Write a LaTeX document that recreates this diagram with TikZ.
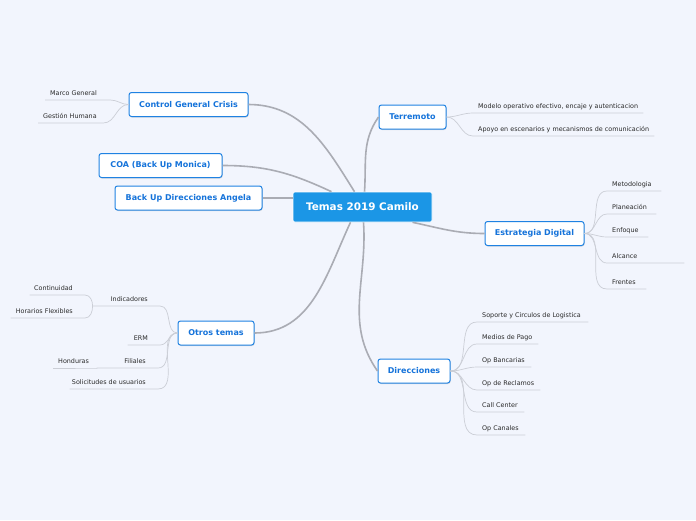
\documentclass[tikz,border=0pt]{standalone}
\usepackage{fontspec}
\setmainfont{DejaVu Sans}
\usepackage{xcolor}
\usepackage{tikz}
\usetikzlibrary{shapes, shadows, positioning}

\definecolor{paper}{HTML}{F2F5FD}
\definecolor{rootblue}{HTML}{1B96E6}
\definecolor{boxblue}{HTML}{1F82E2}
\definecolor{topicblue}{HTML}{1573DA}
\definecolor{linkgray}{HTML}{AAACB4}
\definecolor{twiggray}{HTML}{CBCED6}
\definecolor{leafgray}{HTML}{2A2A2A}

\begin{document}
\begin{tikzpicture}[
        x=1pt, y=-1pt,
        root/.style={
            rectangle,
            rounded corners=2pt,
            fill=rootblue,
            draw=white,
            line width=0.6pt,
            text=white,
            font=\fontsize{10.4}{12}\selectfont\bfseries,
            minimum width=139pt,
            minimum height=30pt
        },
        topic/.style={
            rectangle,
            rounded corners=2.5pt,
            draw=boxblue,
            fill=white,
            line width=1pt,
            text=topicblue,
            font=\fontsize{8}{10}\selectfont\bfseries,
            minimum height=24pt,
            inner xsep=2pt,
            drop shadow={shadow xshift=0.6pt, shadow yshift=-1pt, opacity=0.25}
        },
        twigtext/.style={
            text=leafgray,
            font=\fontsize{6.4}{7.5}\selectfont,
            text height=5pt,
            text depth=1.5pt,
            inner ysep=2.5pt
        },
        leaf/.style={
            twigtext,
            anchor=south west,
            inner xsep=5pt,
            execute at begin node={\hbox to #1\bgroup},
            execute at end node={\hss\egroup}
        },
        leafr/.style={
            twigtext,
            anchor=south east,
            inner xsep=12pt,
            execute at begin node={\hbox to #1\bgroup\hss},
            execute at end node={\egroup}
        },
        link/.style={
            draw=linkgray,
            line width=1.6pt
        },
        twig/.style={
            draw=twiggray,
            line width=0.7pt
        }
    ]

    % Background
    \fill[paper] (0,0) rectangle (696,520);

    % Central topic
    \node[root] (root) at (362.5,207) {Temas 2019 Camilo};

    % Main topics
    \node[topic, minimum width=119pt] (crisis) at (188.5,104.5) {Control General Crisis};
    \node[topic, minimum width=123pt] (coa) at (160.5,165.5) {COA (Back Up Monica)};
    \node[topic, minimum width=147pt] (angela) at (188.5,198) {Back Up Direcciones Angela};
    \node[topic, minimum width=67pt] (terremoto) at (412.5,117) {Terremoto};
    \node[topic, minimum width=99pt] (estrategia) at (534.5,233.5) {Estrategia Digital};
    \node[topic, minimum width=72pt] (direcciones) at (414,371) {Direcciones};
    \node[topic, minimum width=76pt] (otros) at (216,333) {Otros temas};

    % Subtopics
    \node[leaf=55pt] (marco) at (45,100) {Marco General};
    \node[leaf=55pt] (gestion) at (38,123) {Gestión Humana};

    \node[leaf=160pt] (modelo) at (473,113) {Modelo operativo efectivo, encaje y autenticacion};
    \node[leaf=171pt] (apoyo) at (473,136) {Apoyo en escenarios y mecanismos de comunicación};

    \node[leaf=44pt] (metodo) at (607,191) {Metodologia};
    \node[leaf=39pt] (planea) at (607,214) {Planeación};
    \node[leaf=31pt] (enfoque) at (607,237) {Enfoque};
    \node[leaf=67pt] (alcance) at (607,263) {Alcance};
    \node[leaf=29pt] (frentes) at (607,289) {Frentes};

    \node[leaf=101pt] (soporte) at (477,322) {Soporte y Circulos de Logistica};
    \node[leaf=51pt] (medios) at (477,344) {Medios de Pago};
    \node[leaf=44pt] (bancarias) at (477,367) {Op Bancarias};
    \node[leaf=53pt] (reclamos) at (477,390) {Op de Reclamos};
    \node[leaf=37pt] (callcenter) at (477,412) {Call Center};
    \node[leaf=38pt] (canales) at (477,435) {Op Canales};

    \node[leafr=43pt] (indicadores) at (160,306) {Indicadores};
    \node[leafr=31pt] (continuidad) at (85,295) {Continuidad};
    \node[leafr=50pt] (horarios) at (85,318) {Horarios Flexibles};
    \node[leafr=8pt] (erm) at (160,345) {ERM};
    \node[leafr=37pt] (filiales) at (158,368) {Filiales};
    \node[leaf=34pt] (honduras) at (53,368) {Honduras};
    \node[leafr=64pt] (solicitudes) at (158,389) {Solicitudes de usuarios};

    % Links from the central topic
    \draw[link] ([xshift=-8pt]root.north) to[out=122,in=0] (crisis.east);
    \draw[link] ([xshift=-31pt]root.north) to[out=155,in=0] (coa.east);
    \draw[link] (angela.east) -- (angela.east -| root.west);
    \draw[link] ([xshift=2pt]root.north) to[out=86,in=-125] (terremoto.west);
    \draw[link] ([xshift=50pt]root.south) to[out=-12,in=180] (estrategia.west);
    \draw[link] ([xshift=1pt]root.south) to[out=-86,in=125] (direcciones.west);
    \draw[link] ([xshift=-12pt]root.south) to[out=-115,in=0] (otros.east);

    % Links to the subtopics
    \draw[twig] (crisis.west) to[out=180,in=0] (marco.south east) -- (marco.south west);
    \draw[twig] (crisis.west) to[out=180,in=0] (gestion.south east) -- (gestion.south west);

    \draw[twig] (terremoto.east) to[out=0,in=180] (modelo.south west) -- (modelo.south east);
    \draw[twig] (terremoto.east) to[out=0,in=180] (apoyo.south west) -- (apoyo.south east);

    \draw[twig] (estrategia.east) to[out=0,in=180] (metodo.south west) -- (metodo.south east);
    \draw[twig] (estrategia.east) to[out=0,in=180] (planea.south west) -- (planea.south east);
    \draw[twig] (estrategia.east) to[out=0,in=180] (enfoque.south west) -- (enfoque.south east);
    \draw[twig] (estrategia.east) to[out=0,in=180] (alcance.south west) -- (alcance.south east);
    \draw[twig] (estrategia.east) to[out=0,in=180] (frentes.south west) -- (frentes.south east);

    \draw[twig] (direcciones.east) to[out=0,in=180] (soporte.south west) -- (soporte.south east);
    \draw[twig] (direcciones.east) to[out=0,in=180] (medios.south west) -- (medios.south east);
    \draw[twig] (direcciones.east) to[out=0,in=180] (bancarias.south west) -- (bancarias.south east);
    \draw[twig] (direcciones.east) to[out=0,in=180] (reclamos.south west) -- (reclamos.south east);
    \draw[twig] (direcciones.east) to[out=0,in=180] (callcenter.south west) -- (callcenter.south east);
    \draw[twig] (direcciones.east) to[out=0,in=180] (canales.south west) -- (canales.south east);

    \draw[twig] (otros.west) to[out=180,in=0] (indicadores.south east) -- (indicadores.south west);
    \draw[twig] (indicadores.south west) to[out=90,in=0] (continuidad.south east) -- (continuidad.south west);
    \draw[twig] (indicadores.south west) to[out=-90,in=0] (horarios.south east) -- (horarios.south west);
    \draw[twig] (otros.west) to[out=180,in=0] (erm.south east) -- (erm.south west);
    \draw[twig] (otros.west) to[out=180,in=0] (filiales.south east) -- (filiales.south west);
    \draw[twig] (filiales.south west) -- (honduras.south east) -- (honduras.south west);
    \draw[twig] (otros.west) to[out=180,in=0] (solicitudes.south east) -- (solicitudes.south west);

\end{tikzpicture}
\end{document}
